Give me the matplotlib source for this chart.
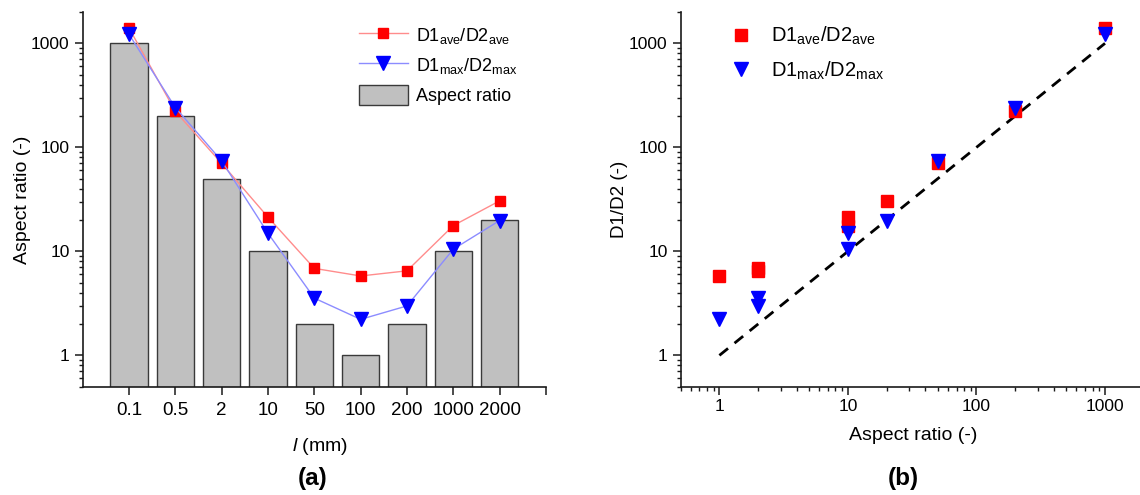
import matplotlib
matplotlib.use("Agg")
import matplotlib.pyplot as plt
from matplotlib.ticker import LogLocator, NullFormatter, NullLocator

plt.rcParams["font.family"] = ["Liberation Sans", "DejaVu Sans"]
plt.rcParams["mathtext.fontset"] = "custom"
plt.rcParams["mathtext.rm"] = "Liberation Sans"
plt.rcParams["mathtext.it"] = "Liberation Sans:italic"

# fibre length classes and the ratios measured for each
lengths = ["0.1", "0.5", "2", "10", "50", "100", "200", "1000", "2000"]
aspect_ratio = [1000, 200, 50, 10, 2, 1, 2, 10, 20]
ratio_ave = [1400, 222, 70, 21.3, 6.86, 5.8, 6.5, 17.7, 30.6]
ratio_max = [1220, 241, 74, 14.9, 3.55, 2.22, 2.99, 10.5, 19.8]

LBL_AVE = r"D1$_{\mathrm{ave}}$/D2$_{\mathrm{ave}}$"
LBL_MAX = r"D1$_{\mathrm{max}}$/D2$_{\mathrm{max}}$"

RED = "#ff0000"
BLUE = "#0000ff"
BAR_FILL = "#c0c0c0"
INK = "#1a1a1a"

fig = plt.figure(figsize=(11.4, 4.95), dpi=100)
W, H = 1140, 495


def _axes(left, right, top, bottom):
    return fig.add_axes([left / W, 1 - bottom / H, (right - left) / W, (bottom - top) / H])


def _style(ax):
    ax.spines[["top", "right"]].set_visible(False)
    for side in ("left", "bottom"):
        ax.spines[side].set_linewidth(1.2)
        ax.spines[side].set_color(INK)
    ax.tick_params(which="major", direction="out", length=6, width=1.1, color=INK)
    ax.tick_params(which="minor", direction="out", length=3.2, width=1.0, color=INK)
    ax.set_yscale("log")
    ax.set_ylim(0.5, 2000)
    ax.yaxis.set_major_locator(LogLocator(base=10, numticks=10))
    ax.yaxis.set_minor_locator(LogLocator(base=10, subs=range(2, 10), numticks=10))
    ax.yaxis.set_minor_formatter(NullFormatter())
    ax.set_yticks([1, 10, 100, 1000], ["1", "10", "100", "1000"])


# (a) bars of nominal aspect ratio with measured ratios on top
ax_a = _axes(82.7, 546, 12, 386.7)
_style(ax_a)
pos = list(range(len(lengths)))
ax_a.bar(pos, aspect_ratio, width=0.8, color=BAR_FILL, edgecolor="#3a3a3a",
         linewidth=1.0, label="Aspect ratio", zorder=2)
ax_a.plot(pos, ratio_ave, color="#ff8c8c", linewidth=1.0, marker="s", markersize=7.5,
          markerfacecolor=RED, markeredgecolor=RED, label=LBL_AVE, zorder=3)
ax_a.plot(pos, ratio_max, color="#8c8cff", linewidth=1.0, marker="v", markersize=10,
          markerfacecolor=BLUE, markeredgecolor=BLUE, label=LBL_MAX, zorder=4)
ax_a.set_xlim(-1, 9)
ax_a.set_xticks(pos + [9], lengths + [""])
ax_a.xaxis.set_minor_locator(NullLocator())
ax_a.tick_params(axis="x", labelsize=13.5, pad=5)
ax_a.tick_params(axis="y", labelsize=12.5)
ax_a.set_ylabel("Aspect ratio (-)", fontsize=14)
ax_a.yaxis.set_label_coords(-0.111, 0.5)
ax_a.set_xlabel(r"$\mathit{l}$ (mm)", fontsize=14)
ax_a.xaxis.set_label_coords(0.512, -0.131)
handles, labels = ax_a.get_legend_handles_labels()
ax_a.legend(handles, labels,
            loc="upper left", bbox_to_anchor=(359 / W, 1 - 25 / H),
            bbox_transform=fig.transFigure, frameon=False, fontsize=13,
            handlelength=2.7, handleheight=1.3, handletextpad=0.45,
            labelspacing=0.5, borderpad=0, borderaxespad=0)

# (b) measured ratio against nominal aspect ratio
ax_b = _axes(680.7, 1143.7, 12, 386.7)
_style(ax_b)
ax_b.set_xscale("log")
ax_b.set_xlim(0.5, 2000)
ax_b.xaxis.set_major_locator(LogLocator(base=10, numticks=10))
ax_b.xaxis.set_minor_locator(LogLocator(base=10, subs=range(2, 10), numticks=10))
ax_b.xaxis.set_minor_formatter(NullFormatter())
ax_b.set_xticks([1, 10, 100, 1000], ["1", "10", "100", "1000"])
ax_b.plot([1, 1000], [1, 1000], color="black", linewidth=2, linestyle=(0, (4, 3)), zorder=1)
ax_b.plot(aspect_ratio, ratio_ave, linestyle="none", marker="s", markersize=8.5,
          color=RED, label=LBL_AVE, zorder=2)
ax_b.plot(aspect_ratio, ratio_max, linestyle="none", marker="v", markersize=10.5,
          color=BLUE, label=LBL_MAX, zorder=3)
ax_b.tick_params(labelsize=12.5)
ax_b.tick_params(axis="x", pad=3)
ax_b.set_ylabel("D1/D2 (-)", fontsize=13.5)
ax_b.yaxis.set_label_coords(-0.114, 0.5)
ax_b.set_xlabel("Aspect ratio (-)", fontsize=14)
ax_b.xaxis.set_label_coords(0.502, -0.108)
ax_b.legend(loc="upper left", bbox_to_anchor=(731 / W, 1 - 25 / H),
            bbox_transform=fig.transFigure, frameon=False, fontsize=14.5,
            handlelength=1.0, handletextpad=1.0, labelspacing=0.6,
            borderpad=0, borderaxespad=0)

fig.text(313 / W, 1 - 478 / H, "(a)", fontsize=17.5, fontweight="bold",
         ha="center", va="center")
fig.text(903 / W, 1 - 478 / H, "(b)", fontsize=17.5, fontweight="bold",
         ha="center", va="center")

fig.savefig("out.png", dpi=100)
